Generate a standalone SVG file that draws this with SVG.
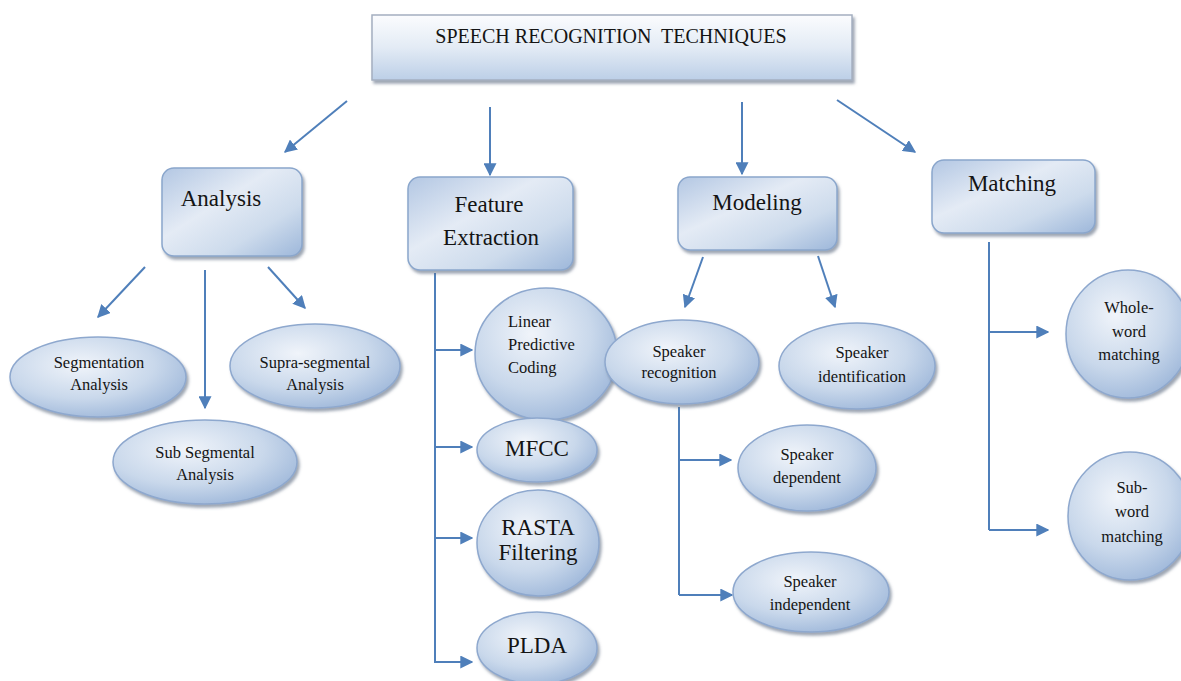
<svg xmlns="http://www.w3.org/2000/svg" width="1181" height="681" viewBox="0 0 1181 681" font-family="'Liberation Serif', 'DejaVu Serif', serif">
<style>
  .bx { fill: url(#bxg); stroke: #8aa6cc; stroke-width: 1.5; filter: url(#sh); }
  .el { fill: url(#elg); stroke: #8ea8ce; stroke-width: 1.5; filter: url(#sh); }
  text { font-family: 'Liberation Serif', 'DejaVu Serif', serif; fill: #141414; text-anchor: middle; }
  text.ls { text-anchor: start; }
  .big { font-size: 23px; }
  .sm { font-size: 16.5px; }
  .cn { stroke: #4f7fba; stroke-width: 2; fill: none; }
  .ar { marker-end: url(#ah); }
</style>
<defs>
  <linearGradient id="bxg" x1="0" y1="0" x2="1" y2="1">
    <stop offset="0" stop-color="#b3c7e3"/>
    <stop offset="0.4" stop-color="#e4ebf5"/>
    <stop offset="0.7" stop-color="#cddbec"/>
    <stop offset="1" stop-color="#9db7da"/>
  </linearGradient>
  <linearGradient id="tg" x1="0" y1="0" x2="0" y2="1">
    <stop offset="0" stop-color="#fbfcfe"/>
    <stop offset="0.5" stop-color="#e3ebf5"/>
    <stop offset="1" stop-color="#bccfe7"/>
  </linearGradient>
  <radialGradient id="elg" cx="0.4" cy="0.35" r="0.7">
    <stop offset="0" stop-color="#f0f4fa"/>
    <stop offset="0.6" stop-color="#c9d8eb"/>
    <stop offset="1" stop-color="#9fb8da"/>
  </radialGradient>
  <filter id="sh" x="-10%" y="-10%" width="130%" height="140%">
    <feDropShadow dx="2" dy="3" stdDeviation="1.5" flood-color="#5a6a80" flood-opacity="0.6"/>
  </filter>
  <marker id="ah" viewBox="0 0 10 10" refX="9" refY="5" markerWidth="13" markerHeight="13" markerUnits="userSpaceOnUse" orient="auto">
    <path d="M0,0 L10,5 L0,10 z" fill="#4f7fba"/>
  </marker>
</defs>
<rect width="1181" height="681" fill="#ffffff"/>

<g id="connectors">
  <line class="cn ar" x1="347" y1="101" x2="285" y2="152"/>
  <line class="cn ar" x1="490" y1="107" x2="490" y2="175"/>
  <line class="cn ar" x1="742" y1="102" x2="742" y2="174"/>
  <line class="cn ar" x1="837" y1="100" x2="915" y2="152"/>

  <line class="cn ar" x1="145" y1="267" x2="98" y2="317"/>
  <line class="cn ar" x1="205" y1="270" x2="205" y2="408"/>
  <line class="cn ar" x1="268" y1="267" x2="305" y2="308"/>

  <path class="cn" d="M435,273 V663"/>
  <line class="cn ar" x1="435" y1="350" x2="472" y2="350"/>
  <line class="cn ar" x1="435" y1="447" x2="472" y2="447"/>
  <line class="cn ar" x1="435" y1="538" x2="472" y2="538"/>
  <path class="cn ar" d="M435,662 H472"/>

  <line class="cn ar" x1="703" y1="257" x2="685" y2="307"/>
  <line class="cn ar" x1="818" y1="256" x2="835" y2="307"/>

  <path class="cn" d="M679,407 V595"/>
  <line class="cn ar" x1="679" y1="460" x2="731" y2="460"/>
  <path class="cn ar" d="M679,595 H732"/>

  <path class="cn" d="M989,242 V530"/>
  <line class="cn ar" x1="989" y1="332" x2="1048" y2="332"/>
  <path class="cn ar" d="M989,530 H1048"/>
</g>

<g id="title">
  <rect x="372" y="15" width="480" height="65" fill="url(#tg)" stroke="#a4afc0" stroke-width="1.5" filter="url(#sh)"/>
  <text x="611" y="43" font-size="20" xml:space="preserve">SPEECH RECOGNITION  TECHNIQUES</text>
</g>

<g id="analysis">
  <rect class="bx" x="162" y="168" width="140" height="88" rx="12"/>
  <text class="big" x="221" y="206">Analysis</text>
</g>
<g id="feature-extraction">
  <rect class="bx" x="408" y="177" width="165" height="93" rx="12"/>
  <text class="big" x="489" y="212">Feature</text>
  <text class="big" x="491" y="245">Extraction</text>
</g>
<g id="modeling">
  <rect class="bx" x="678" y="177" width="159" height="73" rx="12"/>
  <text class="big" x="757" y="210">Modeling</text>
</g>
<g id="matching">
  <rect class="bx" x="932" y="160" width="163" height="73" rx="12"/>
  <text class="big" x="1012" y="191">Matching</text>
</g>

<g id="segmentation-analysis">
  <ellipse class="el" cx="98" cy="377" rx="88" ry="40"/>
  <text class="sm" x="99" y="368">Segmentation</text>
  <text class="sm" x="99" y="390">Analysis</text>
</g>
<g id="sub-segmental-analysis">
  <ellipse class="el" cx="205" cy="462" rx="92" ry="42"/>
  <text class="sm" x="205" y="458">Sub Segmental</text>
  <text class="sm" x="205" y="480">Analysis</text>
</g>
<g id="supra-segmental-analysis">
  <ellipse class="el" cx="315" cy="366" rx="85" ry="42"/>
  <text class="sm" x="315" y="368">Supra-segmental</text>
  <text class="sm" x="315" y="390">Analysis</text>
</g>

<g id="lpc">
  <ellipse class="el" cx="546" cy="354" rx="71" ry="66"/>
  <text class="sm ls" x="508" y="327">Linear</text>
  <text class="sm ls" x="508" y="350">Predictive</text>
  <text class="sm ls" x="508" y="373">Coding</text>
</g>
<g id="mfcc">
  <ellipse class="el" cx="537" cy="450" rx="60" ry="32"/>
  <text class="big" x="537" y="456">MFCC</text>
</g>
<g id="rasta">
  <ellipse class="el" cx="538" cy="543" rx="61" ry="53"/>
  <text class="big" x="538" y="535">RASTA</text>
  <text class="big" x="538" y="560">Filtering</text>
</g>
<g id="plda">
  <ellipse class="el" cx="537" cy="648" rx="60" ry="36"/>
  <text class="big" x="537" y="653">PLDA</text>
</g>

<g id="speaker-recognition">
  <ellipse class="el" cx="682" cy="362" rx="77" ry="42"/>
  <text class="sm" x="679" y="357">Speaker</text>
  <text class="sm" x="679" y="378">recognition</text>
</g>
<g id="speaker-identification">
  <ellipse class="el" cx="857" cy="366" rx="78" ry="43"/>
  <text class="sm" x="862" y="358">Speaker</text>
  <text class="sm" x="862" y="382">identification</text>
</g>
<g id="speaker-dependent">
  <ellipse class="el" cx="807" cy="468" rx="69" ry="43"/>
  <text class="sm" x="807" y="460">Speaker</text>
  <text class="sm" x="807" y="483">dependent</text>
</g>
<g id="speaker-independent">
  <ellipse class="el" cx="811" cy="592" rx="78" ry="40"/>
  <text class="sm" x="810" y="587">Speaker</text>
  <text class="sm" x="810" y="610">independent</text>
</g>

<g id="whole-word-matching">
  <ellipse class="el" cx="1128" cy="334" rx="62" ry="64"/>
  <text class="sm" x="1129" y="313">Whole-</text>
  <text class="sm" x="1129" y="337">word</text>
  <text class="sm" x="1129" y="360">matching</text>
</g>
<g id="sub-word-matching">
  <ellipse class="el" cx="1130" cy="516" rx="62" ry="64"/>
  <text class="sm" x="1132" y="493">Sub-</text>
  <text class="sm" x="1132" y="517">word</text>
  <text class="sm" x="1132" y="542">matching</text>
</g>
</svg>
